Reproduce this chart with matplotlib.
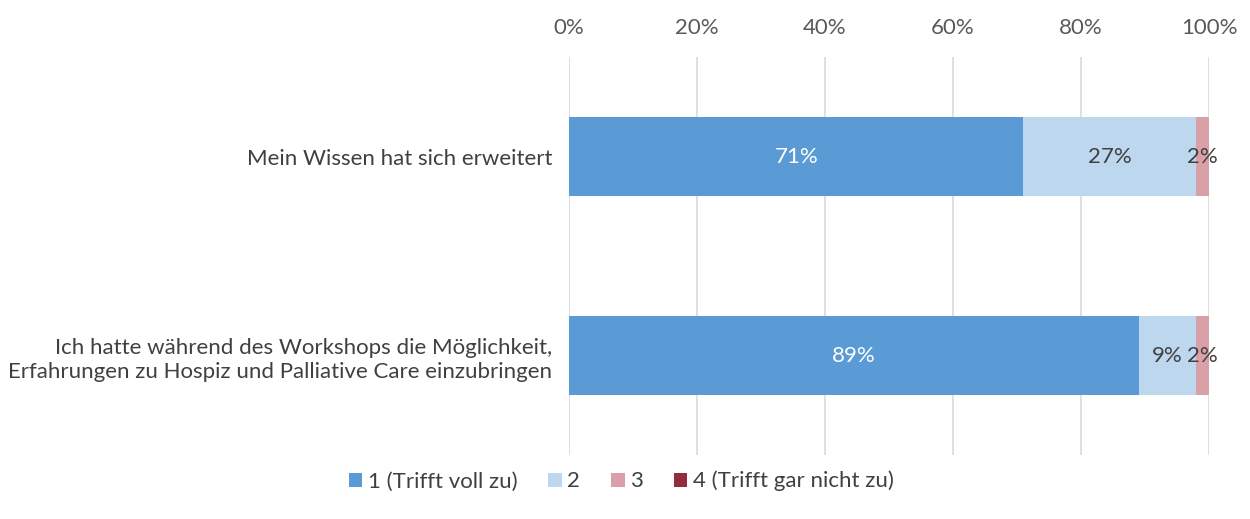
import matplotlib
matplotlib.use("Agg")
import matplotlib.pyplot as plt
from matplotlib.patches import Patch
import numpy as np

categories = [
    "Mein Wissen hat sich erweitert",
    "Ich hatte während des Workshops die Möglichkeit,\nErfahrungen zu Hospiz und Palliative Care einzubringen",
]
series_names = ["1 (Trifft voll zu)", "2", "3", "4 (Trifft gar nicht zu)"]
values = {
    "1 (Trifft voll zu)": [71, 89],
    "2": [27, 9],
    "3": [2, 2],
    "4 (Trifft gar nicht zu)": [0, 0],
}
colors = ["#5B9BD5", "#BDD7EE", "#DAA0A8", "#922D3C"]
label_colors = ["white", "#404040", "#404040", "#404040"]

plt.rcParams['font.family'] = ['Lato', 'DejaVu Sans']

fig = plt.figure(figsize=(12.5, 5.19), dpi=100)
ax = fig.add_axes([0.4552, 0.1233, 0.512, 0.7667])

y = np.arange(len(categories))
left = np.zeros(len(categories))
for name, col, lc in zip(series_names, colors, label_colors):
    vals = np.array(values[name], dtype=float)
    ax.barh(y, vals, left=left, height=0.4, color=col, zorder=3)
    for yi, v, l in zip(y, vals, left):
        if v > 0:
            ax.text(l + v / 2, yi, f"{v:.0f}%", ha="center", va="center",
                    color=lc, fontsize=16, zorder=4)
    left += vals

ax.set_xlim(0, 100)
ax.set_ylim(1.5, -0.5)
ax.set_xticks(np.arange(0, 101, 20))
ax.set_xticklabels([f"{t}%" for t in range(0, 101, 20)])
ax.xaxis.tick_top()
ax.tick_params(axis="x", length=0, pad=14, labelsize=16, labelcolor="#595959")
ax.set_yticks(y)
ax.set_yticklabels(categories, fontsize=16, color="#404040", ha="right",
                   linespacing=1.25)
ax.tick_params(axis="y", length=0, pad=12)
ax.grid(axis="x", color="#D9D9D9", linewidth=1.2, zorder=0)
for s in ax.spines.values():
    s.set_visible(False)

handles = [Patch(facecolor=c, label=n) for c, n in zip(colors, series_names)]
fig.legend(handles=handles, loc="center", bbox_to_anchor=(0.497, 0.073), ncol=4,
           frameon=False, fontsize=16, handlelength=0.6, handleheight=0.6,
           handletextpad=0.25, columnspacing=1.4, labelcolor="#404040")

fig.savefig("out.png", dpi=100)
